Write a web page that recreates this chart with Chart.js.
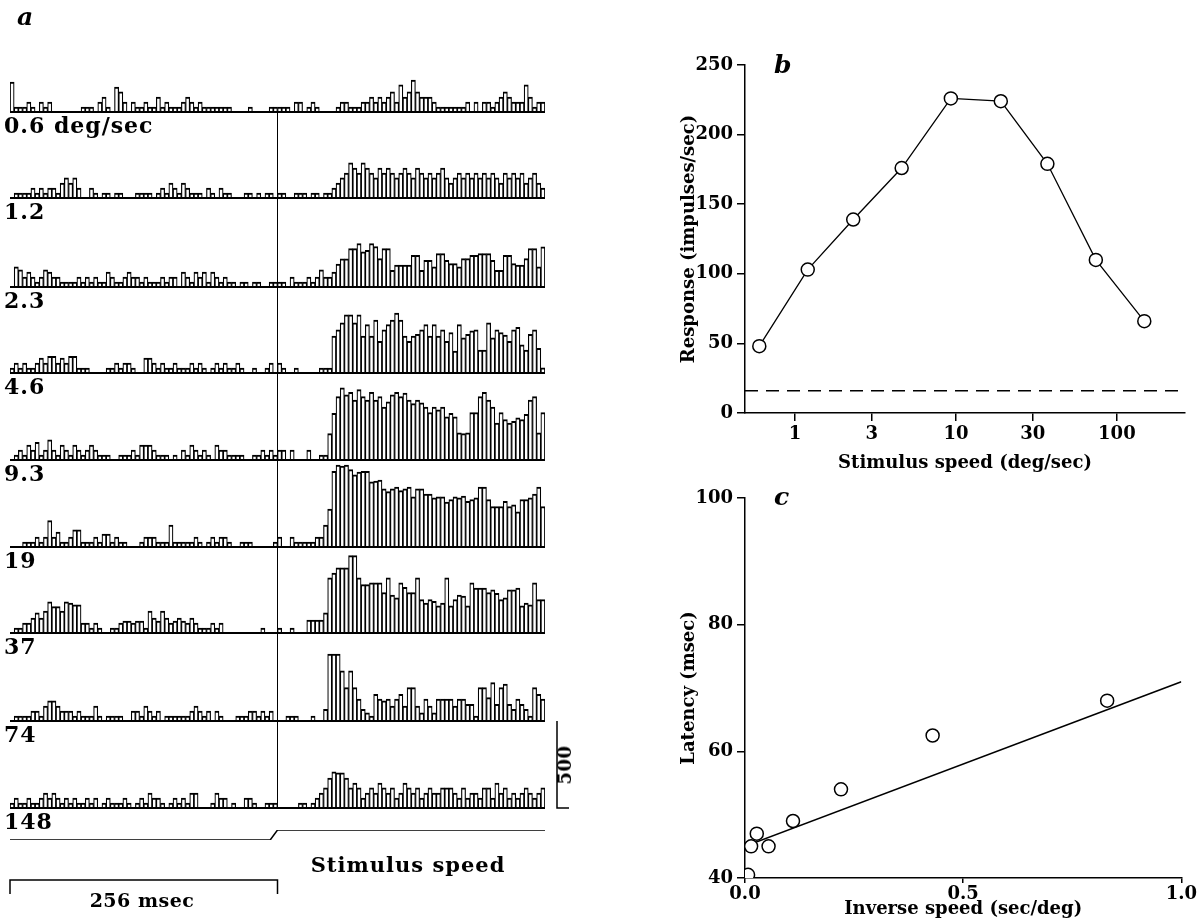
<!DOCTYPE html>
<html><head><meta charset="utf-8">
<script src="https://cdn.jsdelivr.net/npm/chart.js@4.4.0/dist/chart.umd.min.js"></script>
<style>
html,body{margin:0;padding:0;background:#fff}
body{width:1198px;height:920px;overflow:hidden;position:relative;font-family:'DejaVu Serif','Liberation Serif',serif;font-weight:bold;color:#000}
canvas{position:absolute}
.lbl{position:absolute;font-size:22px;letter-spacing:1px;line-height:1;white-space:nowrap}
.panel{position:absolute;font-style:italic;font-size:25px;line-height:1}
</style></head><body>
<script>
// ---------- DATA ----------
const rowLabels = ['0.6 deg/sec','1.2','2.3','4.6','9.3','19','37','74','148'];
const binWidthMs = 4;
const onsetMs = 256;
const scaleBarRate = 500;   // impulses/sec
const scaleBarMs = 256;     // msec
const stimTimeMs = [0, 249, 256, 512];
const stimLevel  = [0, 0, 1, 1];

// PSTH values (impulses/sec), 64 bins before + 64 bins after onset
const psth06 = [170,28,28,28,57,28,0,57,28,57,0,0,0,0,0,0,0,28,28,28,0,57,85,28,0,142,114,57,0,57,28,28,57,28,28,85,28,57,28,28,28,57,85,57,28,57,28,28,28,28,28,28,28,0,0,0,0,28,0,0,0,0,28,28,
  28,28,28,0,57,57,0,28,57,28,0,0,0,0,28,57,57,28,28,28,57,57,85,57,85,57,85,114,57,155,85,114,182,114,85,85,85,57,28,28,28,28,28,28,28,57,0,57,0,57,57,28,57,85,114,85,57,57,57,155,85,28,57,57];
const psth12 = [0,28,28,28,28,57,28,57,28,57,57,28,85,114,85,114,57,0,0,57,28,0,28,28,0,28,28,0,0,0,28,28,28,28,0,28,57,28,85,57,28,85,57,28,28,28,0,57,28,0,57,28,28,0,0,0,28,28,0,28,0,28,28,0,
  28,28,0,0,28,28,28,0,28,28,0,28,28,57,85,114,142,200,170,142,200,170,142,114,170,142,170,142,114,142,170,142,114,170,142,114,142,114,142,170,114,85,114,142,114,142,114,142,114,142,114,142,114,85,142,114,142,114,142,85,114,142,85,57];
const psth23 = [0,114,97,57,85,57,28,57,97,85,57,57,28,28,28,28,57,28,57,28,57,28,28,85,57,28,28,57,85,57,57,28,57,28,28,28,57,28,57,57,0,85,57,28,85,57,85,28,85,57,28,57,28,28,0,28,28,0,28,28,0,0,28,28,
  28,28,0,57,28,28,28,57,28,57,97,57,57,85,130,160,160,218,218,247,200,209,247,230,161,218,218,95,124,124,124,124,180,180,95,152,152,114,190,190,152,133,133,114,161,161,180,180,190,190,190,152,95,95,180,180,133,124,124,161,218,218,114,228];
const psth46 = [28,57,28,57,28,28,57,85,57,95,95,57,85,57,95,95,28,28,28,0,0,0,0,28,28,57,28,57,57,28,0,0,85,85,57,28,57,28,28,57,28,28,28,57,28,57,28,0,28,57,28,57,28,28,57,28,0,0,28,0,0,28,57,0,
  57,28,0,0,28,0,0,0,0,0,28,28,28,210,245,285,330,330,285,330,210,275,210,300,180,245,275,300,340,300,210,180,210,220,245,275,210,275,210,245,180,230,125,275,200,220,240,245,130,130,285,200,245,230,215,180,245,260,160,130,220,245,140,30];
const psth93 = [0,28,57,28,85,57,100,28,57,114,57,28,85,57,28,85,57,28,57,85,57,28,28,28,0,0,28,28,28,57,28,85,85,85,57,28,28,28,0,28,0,57,28,85,57,28,57,28,0,85,57,57,28,28,28,28,0,0,28,28,57,28,57,28,
  57,57,0,57,0,0,0,57,0,0,28,28,150,265,360,410,370,385,340,400,360,340,385,340,360,300,330,370,385,360,380,340,320,340,325,300,270,300,285,300,245,265,245,155,150,155,270,270,360,385,340,300,210,270,230,210,220,240,230,260,340,360,155,270];
const psth19 = [0,0,0,28,28,28,57,28,57,150,57,85,28,28,57,97,97,28,28,28,57,28,74,74,28,57,28,28,0,0,0,28,57,57,57,28,28,28,125,28,28,28,28,28,57,28,0,28,57,28,57,57,28,0,0,28,28,28,0,0,0,0,0,28,
  57,0,0,57,28,28,28,28,28,57,57,125,215,430,465,460,465,440,410,425,430,430,370,375,380,330,315,330,340,320,330,340,285,330,330,300,300,280,285,285,255,270,285,280,290,260,270,280,340,340,270,230,230,230,260,230,240,200,270,270,280,300,340,230];
const psth37 = [0,28,28,57,57,85,114,85,125,177,150,150,125,177,170,160,160,57,57,28,57,28,0,0,28,28,57,68,68,57,68,68,28,125,85,68,125,85,57,68,85,68,57,85,57,28,28,28,57,28,57,0,0,0,0,0,0,0,0,0,28,0,0,0,
  28,0,0,28,0,0,0,74,74,74,74,114,313,340,370,370,370,440,440,313,275,275,285,285,285,230,313,215,200,285,260,230,230,313,190,170,190,180,155,170,313,155,190,215,210,155,285,255,255,255,230,245,225,190,200,245,245,255,155,170,160,285,190,190];
const psth74 = [0,28,28,28,28,57,57,28,85,114,114,85,57,57,57,28,57,28,28,28,85,28,0,28,28,28,28,0,0,57,57,28,85,57,28,57,0,28,28,28,28,28,28,57,85,57,28,57,0,57,28,0,0,0,28,28,28,57,57,28,57,28,57,0,
  0,0,28,28,28,0,0,0,28,0,0,66,380,380,380,285,190,285,190,124,66,47,28,152,124,114,124,85,124,152,85,190,190,85,47,124,85,47,124,124,124,124,85,124,124,95,95,28,190,190,133,218,95,190,210,95,66,124,95,66,28,190,152,124];
const psth148 = [28,57,28,28,57,28,28,57,85,57,85,57,28,57,28,57,28,28,57,28,57,0,28,57,28,28,28,57,28,0,28,57,28,85,57,57,28,0,28,57,28,57,28,85,85,0,0,0,28,85,57,57,0,28,0,0,57,57,28,0,0,28,28,28,
  0,0,0,0,0,28,28,0,28,57,85,114,170,205,200,200,170,114,142,114,57,85,114,85,142,114,85,114,57,85,142,114,85,114,57,85,114,85,85,114,114,114,85,57,114,57,85,85,57,114,114,57,142,85,114,57,85,57,85,114,85,57,85,114];
const psthRows = [psth06, psth12, psth23, psth46, psth93, psth19, psth37, psth74, psth148];
const binStartMs = Array.from({length: psth06.length}, (_, k) => k * binWidthMs);

// Panel b
const bSpeed    = [0.6, 1.2, 2.3, 4.6, 9.3, 19, 37, 74, 148];
const bResponse = [48, 103, 139, 176, 226, 224, 179, 110, 66];
const bSpontaneous = 16;
const bXRange = [0.489, 265];
const bTickValues = [1, 3, 10, 30, 100];
// Panel c
const cInverseSpeed = [0.007, 0.014, 0.027, 0.054, 0.11, 0.22, 0.43, 0.83];
const cLatency      = [40.5, 45, 47, 45, 49, 54, 62.5, 68];
const cFitX = [0, 1];
const cFitY = [45, 71];

// ---------- LAYOUT ----------
const FONT = "'DejaVu Serif','Liberation Serif',serif";
Chart.defaults.font.family = FONT;
Chart.defaults.font.weight = 'bold';
Chart.defaults.font.size = 18;
Chart.defaults.color = '#000';
Chart.defaults.animation = false;

const rowBaselines = [112, 198, 287, 373, 460, 547, 633, 721, 808];
const PX_PER_500 = 88;
const onsetBin = onsetMs / binWidthMs;

function addCanvas(left, top, w, h){
  const c = document.createElement('canvas');
  c.width = w; c.height = h;
  c.style.left = left + 'px'; c.style.top = top + 'px';
  c.style.width = w + 'px'; c.style.height = h + 'px';
  document.body.appendChild(c);
  return c;
}
function addLabel(text, left, top, cls, extra){
  const d = document.createElement('div');
  d.className = cls || 'lbl';
  d.textContent = text;
  d.style.left = left + 'px'; d.style.top = top + 'px';
  if (extra) Object.assign(d.style, extra);
  document.body.appendChild(d);
  return d;
}

function rowDecor(rowIndex){
  return { id: 'rowDecor' + rowIndex, afterDatasetsDraw(chart){
    const {ctx, chartArea, scales:{x, y}} = chart;
    const y0 = y.getPixelForValue(0);
    ctx.save();
    ctx.strokeStyle = '#000';
    ctx.lineWidth = 2;
    ctx.beginPath(); ctx.moveTo(chartArea.left, y0); ctx.lineTo(chartArea.right, y0); ctx.stroke();
    if (rowIndex > 0){
      const xo = (x.getPixelForValue(onsetBin - 1) + x.getPixelForValue(onsetBin)) / 2;
      ctx.lineWidth = 1;
      ctx.beginPath(); ctx.moveTo(xo, chartArea.top); ctx.lineTo(xo, y0); ctx.stroke();
    }
    if (rowIndex === psthRows.length - 1){
      const y5 = y.getPixelForValue(scaleBarRate);
      const xb = chartArea.right + 12;
      ctx.lineWidth = 1.5;
      ctx.beginPath(); ctx.moveTo(xb + 12, y5); ctx.lineTo(xb, y5); ctx.lineTo(xb, y0); ctx.lineTo(xb + 12, y0); ctx.stroke();
    }
    ctx.restore();
  }};
}

psthRows.forEach((vals, i) => {
  const gap = i === 0 ? 87 : rowBaselines[i] - rowBaselines[i - 1];
  const cv = addCanvas(0, rowBaselines[i] - gap, 580, gap + 3);
  new Chart(cv, {
    type: 'bar',
    data: { labels: binStartMs, datasets: [{
      data: vals, backgroundColor: '#fff', borderColor: '#000',
      borderWidth: {top: 2, left: 1.2, right: 1.2, bottom: 0},
      barPercentage: 1, categoryPercentage: 1, borderSkipped: 'start'
    }]},
    options: {
      responsive: false, devicePixelRatio: 1,
      layout: { padding: { left: 10, right: 35, top: 0, bottom: 3 } },
      plugins: { legend: { display: false }, tooltip: { enabled: false } },
      scales: {
        x: { display: false },
        y: { display: false, min: 0, max: scaleBarRate * gap / PX_PER_500 }
      }
    },
    plugins: [rowDecor(i)]
  });
  addLabel(rowLabels[i], 4, rowBaselines[i] + 2);
});

// Stimulus trace + time scale bar
const stimCanvas = addCanvas(0, 815, 580, 100);
new Chart(stimCanvas, {
  type: 'line',
  data: { datasets: [{
    data: stimTimeMs.map((t, k) => ({ x: t, y: stimLevel[k] })),
    borderColor: '#000', borderWidth: 1.5, pointRadius: 0, tension: 0
  }]},
  options: {
    responsive: false, devicePixelRatio: 1,
    layout: { padding: { left: 10, right: 35, top: 15, bottom: 75 } },
    plugins: { legend: { display: false }, tooltip: { enabled: false } },
    scales: {
      x: { type: 'linear', display: false, min: 0, max: binStartMs.length * binWidthMs },
      y: { display: false, min: 0, max: 1 }
    }
  },
  plugins: [{ id: 'timeBar', afterDatasetsDraw(chart){
    const {ctx, chartArea, scales:{x}} = chart;
    const yb = chartArea.bottom + 40;
    const x0 = x.getPixelForValue(0), x1 = x.getPixelForValue(scaleBarMs);
    ctx.save(); ctx.strokeStyle = '#000'; ctx.lineWidth = 1.5;
    ctx.beginPath(); ctx.moveTo(x0, yb + 14); ctx.lineTo(x0, yb); ctx.lineTo(x1, yb); ctx.lineTo(x1, yb + 14); ctx.stroke();
    ctx.restore();
  }}]
});
addLabel('Stimulus speed', 408, 854, 'lbl', { transform: 'translateX(-50%)', fontSize: '21px' });
addLabel('256 msec', 142, 891, 'lbl', { transform: 'translateX(-50%)', fontSize: '19px', letterSpacing: '0.5px' });
addLabel('500', 565, 765, 'lbl', { transform: 'translate(-50%,-50%) rotate(-90deg)', fontSize: '18px', letterSpacing: '0.5px' });
addLabel('a', 17, 4, 'panel');

// ---------- Panel b ----------
const axisCommon = {
  grid: { display: true, drawOnChartArea: false, drawTicks: true, tickLength: 8, color: '#000', lineWidth: 1.5 },
  border: { display: true, color: '#000', width: 1.5 }
};
const bCanvas = addCanvas(675, 40, 523, 440);
new Chart(bCanvas, {
  type: 'line',
  data: { datasets: [
    { data: bSpeed.map((s, k) => ({ x: s, y: bResponse[k] })), borderColor: '#000', borderWidth: 1.3,
      pointRadius: 6.5, pointBackgroundColor: '#fff', pointBorderColor: '#000', pointBorderWidth: 1.5, tension: 0 },
    { data: bXRange.map(v => ({ x: v, y: bSpontaneous })), borderColor: '#000', borderWidth: 1.5,
      borderDash: [13, 8], pointRadius: 0 }
  ]},
  options: {
    responsive: false, devicePixelRatio: 1,
    layout: { padding: { left: 0, right: 13, top: 25, bottom: 0 } },
    plugins: { legend: { display: false }, tooltip: { enabled: false } },
    scales: {
      x: { type: 'logarithmic', min: bXRange[0], max: bXRange[1], ...axisCommon,
        afterBuildTicks: s => { s.ticks = bTickValues.map(v => ({ value: v })); },
        afterFit: s => { s.height = 67; },
        ticks: { autoSkip: false, maxRotation: 0, padding: 3, callback: v => String(v) },
        title: { display: true, text: 'Stimulus speed (deg/sec)', padding: { top: 0, bottom: 6 } } },
      y: { type: 'linear', min: 0, max: 250, ...axisCommon,
        afterFit: s => { s.width = 70; },
        ticks: { stepSize: 50, padding: 4 },
        title: { display: true, text: 'Response (impulses/sec)', padding: { top: 4, bottom: 0 } } }
    }
  }
});
addLabel('b', 774, 52, 'panel');

// ---------- Panel c ----------
const cCanvas = addCanvas(675, 475, 523, 445);
new Chart(cCanvas, {
  type: 'scatter',
  data: { datasets: [
    { data: cInverseSpeed.map((v, k) => ({ x: v, y: cLatency[k] })), showLine: false,
      pointRadius: 6.5, pointBackgroundColor: '#fff', pointBorderColor: '#000', pointBorderWidth: 1.5 },
    { data: cFitX.map((v, k) => ({ x: v, y: cFitY[k] })), showLine: true, borderColor: '#000', borderWidth: 1.6, pointRadius: 0 }
  ]},
  options: {
    responsive: false, devicePixelRatio: 1,
    layout: { padding: { left: 0, right: 15, top: 23, bottom: 0 } },
    plugins: { legend: { display: false }, tooltip: { enabled: false } },
    scales: {
      x: { type: 'linear', min: 0, max: 1, ...axisCommon,
        grid: { ...axisCommon.grid, tickLength: 5 },
        afterFit: s => { s.height = 42; },
        ticks: { stepSize: 0.5, padding: 1, callback: v => Number(v).toFixed(1) },
        title: { display: true, text: 'Inverse speed (sec/deg)', padding: { top: 0, bottom: 0 } } },
      y: { type: 'linear', min: 40, max: 100, ...axisCommon,
        afterFit: s => { s.width = 70; },
        ticks: { stepSize: 20, padding: 4 },
        title: { display: true, text: 'Latency (msec)', padding: { top: 4, bottom: 0 } } }
    }
  }
});
addLabel('c', 774, 484, 'panel');
</script>
</body></html>
